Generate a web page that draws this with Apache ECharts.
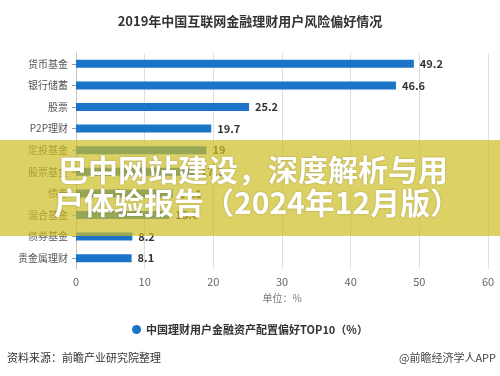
<!DOCTYPE html>
<html>
<head>
<meta charset="utf-8">
<script src="https://cdn.jsdelivr.net/npm/echarts@6/dist/echarts.min.js"></script>
<style>
  html, body { margin: 0; padding: 0; background: #fff; }
  #chart { width: 500px; height: 376px; }
</style>
</head>
<body>
<div id="chart"></div>
<script>
// 数据
var categories = ['货币基金', '银行储蓄', '股票', 'P2P理财', '定投基金', '股票基金', '债券', '混合基金', '债券基金', '贵金属理财'];
var values = [49.2, 46.6, 25.2, 19.7, 19, 17.3, 14.1, 13.6, 8.2, 8.1];
var xTicks = [0, 10, 20, 30, 40, 50, 60];
var seriesName = '中国理财用户金融资产配置偏好TOP10（%）';

var font = '"Microsoft YaHei", "Noto Sans CJK SC", sans-serif';

var myChart = echarts.init(document.getElementById('chart'));

var option = {
    backgroundColor: '#fff',
    textStyle: { fontFamily: font },
    animation: false,
    title: {
        text: '2019年中国互联网金融理财用户风险偏好情况',
        left: 'center',
        top: 10,
        textStyle: { fontSize: 13, fontWeight: 'bold', color: '#333', fontFamily: font }
    },
    grid: { left: 76, right: 12, top: 53, bottom: 107 },
    xAxis: {
        type: 'value',
        min: xTicks[0],
        max: xTicks[xTicks.length - 1],
        interval: 10,
        name: '单位：%',
        nameLocation: 'middle',
        nameGap: 24,
        nameTextStyle: { fontSize: 10, color: '#777' },
        axisLine: { show: false },
        axisTick: { show: false },
        axisLabel: { fontSize: 11, color: '#666', margin: 7 },
        splitLine: { lineStyle: { color: '#dedede' } }
    },
    yAxis: {
        type: 'category',
        data: categories,
        inverse: true,
        axisLine: { lineStyle: { color: '#c4c4c4' } },
        axisTick: { show: true, length: 4, lineStyle: { color: '#999' }, alignWithLabel: true },
        axisLabel: { fontSize: 10, color: '#555', margin: 8 }
    },
    legend: {
        bottom: 36,
        left: 'center',
        icon: 'circle',
        itemWidth: 9,
        itemHeight: 9,
        textStyle: { fontSize: 11, fontWeight: 'bold', color: '#333' }
    },
    series: [{
        name: seriesName,
        type: 'bar',
        data: values,
        barWidth: 8,
        itemStyle: { color: '#1a74c8' },
        label: {
            show: true,
            position: 'right',
            distance: 6,
            fontSize: 11,
            fontWeight: 'bold',
            color: '#333'
        }
    }],
    graphic: [
        {
            type: 'text', left: 7, top: 352, z: 10,
            style: { text: '资料来源：前瞻产业研究院整理', fill: '#333', font: '11px ' + font }
        },
        {
            type: 'text', right: 4, top: 352, z: 10,
            style: { text: '@前瞻经济学人APP', fill: '#444', font: '11px ' + font }
        },
        {
            type: 'rect', left: 0, top: 140, z: 100,
            shape: { width: 500, height: 96 },
            style: { fill: 'rgba(205,190,35,0.7)' }
        },
        {
            type: 'text', left: 58, top: 155, z: 101,
            style: {
                text: '巴中网站建设，深度解析与用', fill: '#fff', font: 'bold 30px ' + font,
                textShadowColor: 'rgba(0,0,0,0.25)', textShadowBlur: 2
            }
        },
        {
            type: 'text', left: 54, top: 188, z: 101,
            style: {
                text: '户体验报告（2024年12月版）', fill: '#fff', font: 'bold 30px ' + font,
                textShadowColor: 'rgba(0,0,0,0.25)', textShadowBlur: 2
            }
        }
    ]
};

myChart.setOption(option);
</script>
</body>
</html>
